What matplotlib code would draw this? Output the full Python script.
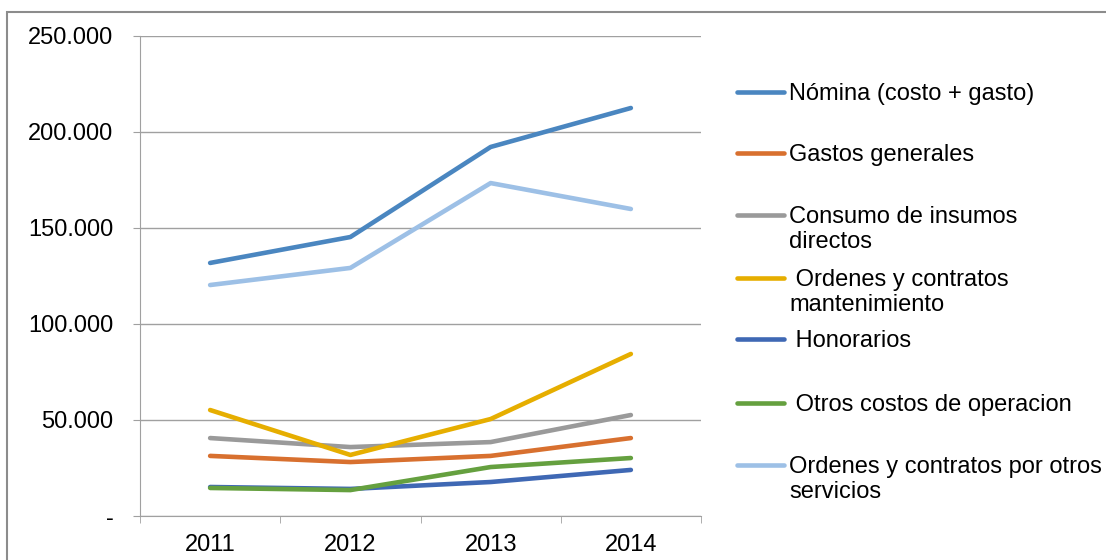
import matplotlib
matplotlib.use('agg')
import matplotlib.pyplot as plt
from matplotlib.lines import Line2D
from matplotlib.patches import Rectangle
from matplotlib.ticker import FuncFormatter

plt.rcParams['font.family'] = ['Liberation Sans', 'DejaVu Sans']

years = ['2011', '2012', '2013', '2014']
nomina = [131800, 145300, 192200, 212500]
gastos_generales = [31300, 28100, 31300, 40600]
consumo_insumos = [40600, 35900, 38500, 52600]
ordenes_mantenimiento = [55200, 31800, 50500, 84400]
honorarios = [15100, 14100, 17700, 24000]
otros_costos = [14600, 13500, 25500, 30200]
ordenes_otros = [120300, 129200, 173400, 159900]

labels = ['Nómina (costo + gasto)', 'Gastos generales',
          'Consumo de insumos\ndirectos', ' Ordenes y contratos\nmantenimiento',
          ' Honorarios', ' Otros costos de operacion',
          'Ordenes y contratos por otros\nservicios']
series = [nomina, gastos_generales, consumo_insumos, ordenes_mantenimiento,
          honorarios, otros_costos, ordenes_otros]
colors = ['#4a86c0', '#d8702f', '#9a9a9a', '#e6ae00', '#3f68b4', '#65a03f', '#9dc0e6']

W, H = 1106, 560
fig = plt.figure(figsize=(W / 100, H / 100), dpi=100)
ax = fig.add_axes([140 / W, 1 - 516 / H, 561 / W, 480 / H])

x = list(range(len(years)))
for vals, c in zip(series, colors):
    ax.plot(x, vals, color=c, lw=3.3, solid_capstyle='round', zorder=3)

ax.set_xlim(-0.5, len(years) - 0.5)
ax.set_ylim(0, 250000)
ax.set_yticks(range(0, 250001, 50000))
ax.yaxis.set_major_formatter(FuncFormatter(
    lambda v, p: '-' if v == 0 else f'{int(v):,}'.replace(',', '.')))
ax.grid(axis='y', color='#a0a0a0', lw=1, zorder=0)

ax.set_xticks(x)
ax.set_xticklabels(years)
ax.set_xticks([i - 0.5 for i in range(len(years) + 1)], minor=True)
ax.tick_params(axis='x', which='major', length=0, pad=13, labelsize=17)
ax.tick_params(axis='x', which='minor', length=5, color='#a0a0a0')
ax.tick_params(axis='y', length=5, color='#a0a0a0', pad=14, labelsize=17)

for s in ['top', 'right']:
    ax.spines[s].set_visible(False)
for s in ['left', 'bottom']:
    ax.spines[s].set_color('#a0a0a0')

# legend drawn by hand to keep the even spacing of the original
leg_y = [92, 153, 215, 278, 339, 403, 465]
for yy, lab, c in zip(leg_y, labels, colors):
    fy = 1 - yy / H
    fig.add_artist(Line2D([737 / W, 784 / W], [fy, fy], color=c, lw=3.3,
                          solid_capstyle='round'))
    fig.text(789 / W, 1 - (yy - 9) / H, lab, fontsize=17, va='top',
             ha='left', linespacing=1.15)

fig.add_artist(Rectangle((7 / W, -0.1), 1.2, 1 - 12 / H + 0.1,
                         transform=fig.transFigure, fill=False,
                         edgecolor='#8c8c8c', lw=1.5))

fig.savefig('out.png', dpi=100)
